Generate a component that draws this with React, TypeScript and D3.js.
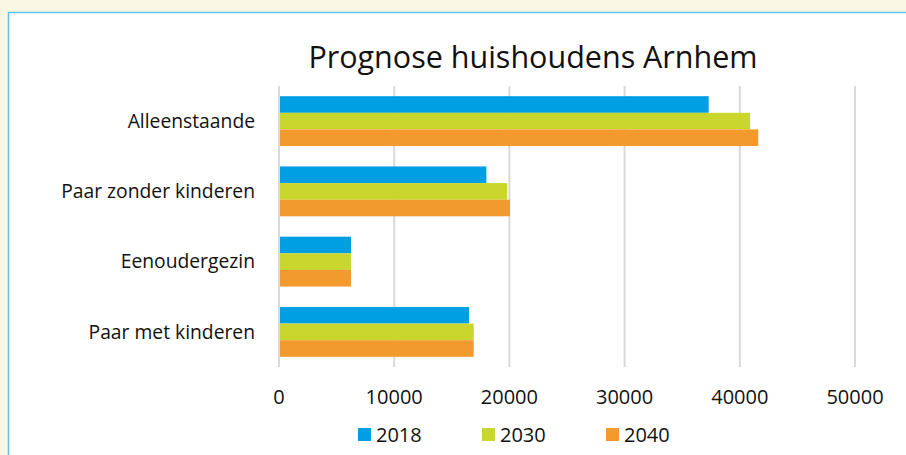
import React, { useEffect, useRef } from 'react';
import * as d3 from 'd3';

const categories = ['Alleenstaande', 'Paar zonder kinderen', 'Eenoudergezin', 'Paar met kinderen'];
const series = ['2018', '2030', '2040'];
const values2018 = [37300, 18000, 6250, 16500];
const values2030 = [40900, 19800, 6250, 16900];
const values2040 = [41600, 20050, 6250, 16900];
const ticks = [0, 10000, 20000, 30000, 40000, 50000];
const colors = ['#009fe3', '#c8d62d', '#f39a2e'];

const W = 906;
const H = 455;
const FONT = '"Open Sans", sans-serif';

const App: React.FC = () => {
    const svgRef = useRef<SVGSVGElement>(null);

    useEffect(() => {
        if (!svgRef.current) return;
        const svg = d3.select(svgRef.current);
        svg.selectAll('*').remove();

        // page background + panel
        svg.append('rect').attr('width', W).attr('height', H).attr('fill', '#f8f7e3');
        svg.append('rect')
            .attr('x', 8.5).attr('y', 12.5)
            .attr('width', W + 20).attr('height', H + 20)
            .attr('fill', '#fff')
            .attr('stroke', '#5ec2ec')
            .attr('stroke-width', 1.5);

        const x = d3.scaleLinear().domain([0, 50000]).range([279, 855]);
        const y = d3.scaleBand().domain(categories).range([86, 367]).paddingInner(0.29).paddingOuter(0.145);
        const inner = d3.scaleBand().domain(series).range([0, y.bandwidth()]);

        // gridlines
        svg.append('g').selectAll('line')
            .data(ticks)
            .enter()
            .append('line')
            .attr('x1', d => x(d)).attr('x2', d => x(d))
            .attr('y1', 86).attr('y2', 367)
            .attr('stroke', '#d9d9d9')
            .attr('stroke-width', 2);

        const table = [values2018, values2030, values2040];
        series.forEach((s, si) => {
            svg.append('g').selectAll('rect')
                .data(categories)
                .enter()
                .append('rect')
                .attr('x', x(0) + 1)
                .attr('y', c => (y(c) as number) + (inner(s) as number))
                .attr('width', (c, i) => x(table[si][i]) - x(0) - 1)
                .attr('height', inner.bandwidth())
                .attr('fill', colors[si]);
        });

        // category labels
        svg.append('g').selectAll('text')
            .data(categories)
            .enter()
            .append('text')
            .attr('x', 255)
            .attr('y', c => (y(c) as number) + y.bandwidth() / 2)
            .attr('dy', '0.35em')
            .attr('text-anchor', 'end')
            .style('font-family', FONT)
            .style('font-size', '19.3px')
            .style('fill', '#111')
            .text(c => c);

        // tick labels
        svg.append('g').selectAll('text')
            .data(ticks)
            .enter()
            .append('text')
            .attr('x', d => x(d))
            .attr('y', 397)
            .attr('dy', '0.35em')
            .attr('text-anchor', 'middle')
            .style('font-family', FONT)
            .style('font-size', '20px')
            .style('fill', '#111')
            .text(d => d);

        // title
        svg.append('text')
            .attr('x', 533).attr('y', 68)
            .attr('text-anchor', 'middle')
            .style('font-family', FONT)
            .style('font-size', '30.5px')
            .style('fill', '#111')
            .text('Prognose huishoudens Arnhem');

        // legend
        const legendX = [358, 482, 606];
        const lg = svg.append('g').selectAll('g')
            .data(series)
            .enter()
            .append('g')
            .attr('transform', (d, i) => `translate(${legendX[i]},428)`);
        lg.append('rect').attr('width', 13).attr('height', 13).attr('fill', (d, i) => colors[i]);
        lg.append('text')
            .attr('x', 18).attr('y', 7)
            .attr('dy', '0.36em')
            .style('font-family', FONT)
            .style('font-size', '20px')
            .style('fill', '#111')
            .text(d => d);
    }, []);

    return (
        <div style={{ position: 'fixed', left: 0, top: 0, width: W, height: H }}>
            <svg ref={svgRef} width={W} height={H} style={{ display: 'block' }} />
        </div>
    );
};

export default App;
